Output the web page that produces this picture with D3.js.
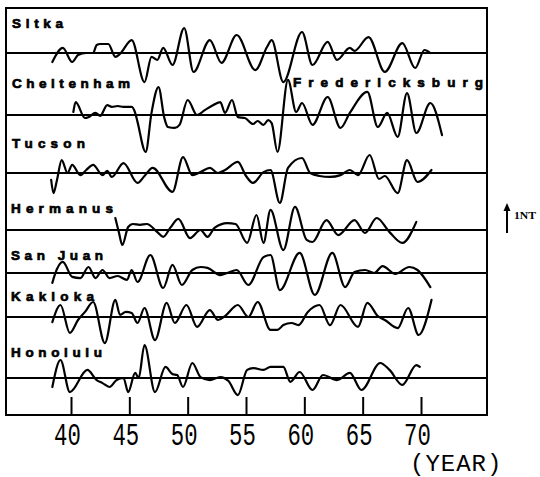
<!DOCTYPE html>
<html><head><meta charset="utf-8">
<script src="https://cdn.jsdelivr.net/npm/d3@7/dist/d3.min.js"></script>
<style>html,body{margin:0;padding:0;background:#fff;}</style>
</head><body>
<svg id="c" width="540" height="477"></svg>
<script>
// ---------- data ----------
const stations = ["Sitka","Cheltenham","Tucson","Hermanus","San Juan","Kakioka","Honolulu"];
const extraLabel = "Fredericksburg";
const tickYears = [40,45,50,55,60,65,70];
const xLabel = "(YEAR)";
const scaleLabel = "1NT";

// [year, nT]
const sitka = [[38.4,-0.3],[39.3,0.17],[40.1,-0.3],[40.6,-0.07],[41.3,0],[41.9,0],[42.2,0.27],[42.5,0.3],[43.2,0.3],[43.8,-0.13],[44.2,-0.03],[45.2,0.43],[46.3,-0.97],[46.9,-0.13],[47.4,-0.23],[47.9,0.17],[48.7,-0.4],[49.7,0.83],[50.5,-0.63],[51.9,0.43],[52.9,-0.33],[54.2,0.6],[55.8,-0.57],[56.8,0.2],[57.2,0.43],[58.2,-0.97],[59.8,0.7],[60.7,-0.4],[62.0,0.37],[62.8,-0.23],[63.9,0.17],[64.3,0.07],[65.5,0.53],[66.9,-0.63],[68.4,0.33],[69.5,-0.5],[70.3,0.1],[70.8,0]];
const cheltenham = [[40.2,0.1],[40.4,0.43],[41.2,-0.1],[41.5,-0.07],[42.1,0.07],[42.5,-0.03],[43.1,0.33],[43.5,0.27],[44.0,0.3],[44.5,0.27],[45.2,0.27],[45.5,0.07],[45.7,-0.23],[46.4,-1.23],[46.9,0.07],[47.5,0.93],[48.0,-0.1],[48.3,-0.4],[48.9,-0.43],[49.3,-0.33],[50.0,0.5],[50.8,0],[51.5,0.17],[52.2,0.33],[52.8,0.43],[53.2,0.07],[53.8,0.5],[54.3,-0.07],[54.9,-0.1],[55.6,-0.3],[56.0,-0.2],[56.5,-0.33],[56.9,-0.17],[57.2,-0.27],[57.7,-1.23],[58.6,1.17],[59.3,0.1],[59.8,0.4],[60.7,-0.33],[62.0,0.6],[63.1,-0.43],[63.9,0.07],[65.4,0.77],[66.3,-0.4],[67.1,0.07],[68.0,-0.73],[68.8,0.73],[69.6,-0.6],[70.8,0.4],[71.8,-0.67]];
const tucson = [[38.3,-0.23],[38.5,-0.67],[38.8,-0.23],[39.2,0.43],[39.7,0],[40.1,0.27],[40.8,-0.07],[41.3,0.1],[41.9,0.27],[42.7,-0.07],[43.1,0.07],[43.5,-0.13],[44.5,0.33],[45.7,-0.33],[46.3,-0.1],[47.0,0.17],[48.7,-0.63],[49.6,0.53],[50.4,-0.07],[51.1,0.03],[51.9,0.17],[52.6,0],[53.2,0.1],[54.3,0.37],[55.0,-0.1],[55.6,-0.33],[56.5,0.03],[57.1,0.1],[57.9,-1.0],[58.6,0.17],[59.8,0.5],[60.5,0],[61.3,-0.1],[62.2,-0.13],[63.1,-0.07],[63.9,0.1],[64.6,-0.07],[65.6,0.6],[66.4,-0.2],[66.9,-0.1],[68.0,-0.67],[68.8,0.43],[69.7,-0.3],[70.9,0.1]];
const hermanus = [[43.8,0.4],[44.1,-0.07],[44.4,-0.5],[44.9,0.1],[45.3,0.2],[45.9,0.17],[46.5,0.2],[47.4,-0.07],[47.9,-0.23],[48.5,0.07],[49.2,0.37],[50.2,-0.27],[51.1,0],[51.7,-0.23],[52.3,0.07],[53.4,0.23],[54.1,0.2],[55.1,-0.43],[55.9,0.5],[56.5,-0.43],[57.1,0.67],[58.2,-0.67],[59.2,0.77],[60.2,-0.33],[60.7,-0.4],[61.9,0.33],[62.9,-0.17],[64.3,0.33],[65.2,-0.1],[66.2,0.4],[67.3,-0.07],[68.4,-0.43],[69.6,0.27]];
const sanJuan = [[38.4,-0.33],[38.6,-0.07],[39.3,0.37],[40.1,-0.13],[40.8,-0.17],[41.5,0.2],[42.1,-0.17],[42.7,0.1],[43.3,-0.17],[44.0,-0.1],[44.8,-0.23],[45.2,0.1],[45.7,-0.3],[46.8,0.6],[47.9,-0.5],[48.7,0.27],[49.5,-0.4],[50.4,0.1],[51.1,0.2],[51.7,0.17],[52.8,-0.07],[53.4,0],[54.2,0.1],[55.2,-0.4],[56.5,0.53],[57.1,0.6],[57.9,-0.57],[59.6,0.67],[60.9,-0.73],[62.4,0.67],[63.5,-0.47],[64.3,0.03],[65.2,0.1],[66.0,0],[66.7,0.23],[67.8,-0.03],[69.0,0.2],[69.7,0.1],[70.8,-0.47]];
const kakioka = [[38.4,-0.17],[39.1,0.4],[39.9,-0.53],[40.6,-0.1],[41.2,0.17],[41.9,0.5],[42.9,-0.87],[43.8,0.57],[44.2,0.07],[44.7,0.17],[45.2,0.13],[45.7,-0.2],[46.3,0.3],[47.2,-0.77],[48.2,0.47],[48.9,-0.2],[49.9,0.4],[50.8,-0.33],[51.9,0.23],[52.6,-0.1],[53.2,0.03],[54.3,0.4],[55.2,0],[56.0,0.5],[57.1,-0.43],[57.7,-0.43],[58.2,-0.27],[58.9,-0.2],[59.5,-0.27],[60.3,0.17],[61.3,0.4],[62.2,-0.27],[63.1,0.4],[64.6,-0.33],[65.4,0.47],[66.3,0.03],[66.9,-0.1],[68.0,-0.37],[68.9,0.3],[69.8,-0.6],[70.9,0.57]];
const honolulu = [[38.4,-0.3],[39.1,0.6],[39.9,-0.47],[41.4,0.27],[42.2,-0.07],[42.7,-0.17],[43.3,-0.3],[43.9,-0.07],[44.5,0],[44.9,-0.47],[45.5,0.17],[45.8,0],[46.3,1.1],[47.2,-0.47],[48.1,0.37],[48.7,0.13],[49.1,0.1],[49.6,-0.3],[50.4,0.5],[51.1,0.03],[51.9,-0.07],[52.8,0.03],[53.5,-0.1],[54.3,-0.57],[55.1,0.27],[55.6,0.33],[56.5,0.27],[57.1,0.37],[58.2,0.37],[58.8,-0.13],[59.6,0.2],[60.7,-0.4],[61.6,0.1],[62.8,-0.07],[63.9,0.17],[64.9,-0.4],[66.5,0.5],[67.3,0.27],[68.4,-0.23],[69.6,0.43],[69.9,0.37]];
const series = [sitka, cheltenham, tucson, hermanus, sanJuan, kakioka, honolulu];

// ---------- layout ----------
const frame = {x0:6, y0:8, x1:487, y1:415};
const baselines = [53,115,173,230,273,317,378];
const pxPerNT = 30;
const labelLayout = [
  {x:12,y:28,w:51},{x:12,y:88,w:118},{x:12,y:148,w:73},{x:11,y:213,w:102},
  {x:11,y:260,w:92},{x:11,y:301,w:83},{x:11,y:357,w:91}
];
const extraLayout = {x:293,y:87,w:190};

const svg = d3.select("#c");
const x = d3.scaleLinear().domain([40,70]).range([71,421]);

// frame
svg.append("rect").attr("x",frame.x0).attr("y",frame.y0)
  .attr("width",frame.x1-frame.x0).attr("height",frame.y1-frame.y0)
  .attr("fill","none").attr("stroke","#000").attr("stroke-width",2);

function label(t, L){
  svg.append("text").attr("x",L.x).attr("y",L.y).text(t)
    .attr("font-family","Liberation Sans, Arial, sans-serif").attr("font-weight","bold")
    .attr("font-size",13.5).attr("stroke","#000").attr("stroke-width",0.7)
    .attr("textLength",L.w).attr("lengthAdjust","spacing");
}

// baselines + curves
const line = d3.line().curve(d3.curveMonotoneX);
series.forEach((s,i)=>{
  const b = baselines[i];
  const y = d3.scaleLinear().domain([-1,1]).range([b+pxPerNT,b-pxPerNT]);
  svg.append("line").attr("x1",frame.x0).attr("x2",frame.x1).attr("y1",b).attr("y2",b)
    .attr("stroke","#000").attr("stroke-width",2);
  svg.append("path").attr("d", line.x(d=>x(d[0])).y(d=>y(d[1]))(s))
    .attr("fill","none").attr("stroke","#000").attr("stroke-width",2.2)
    .attr("stroke-linejoin","round").attr("stroke-linecap","round");
  label(stations[i], labelLayout[i]);
});
label(extraLabel, extraLayout);

// x axis
const axis = d3.axisBottom(x).tickValues(tickYears).tickSize(-18).tickFormat(d3.format("d"));
const g = svg.append("g").attr("transform",`translate(0,${frame.y1})`).call(axis);
g.select(".domain").remove();
g.selectAll(".tick line").attr("stroke","#000").attr("stroke-width",2);
g.selectAll(".tick text").attr("y",30).attr("dy",0)
  .attr("font-family","Liberation Mono, monospace").attr("font-size",31)
  .attr("fill","#000").attr("transform","translate(-4,0) scale(0.72,1)");

svg.append("text").attr("x",410).attr("y",471).text(xLabel)
  .attr("font-family","Liberation Mono, monospace").attr("font-size",24)
  .attr("letter-spacing",1);

// scale arrow: 1 nT
const ya = d3.scaleLinear().domain([0,1]).range([233,233-pxPerNT]);
svg.append("line").attr("x1",507).attr("x2",507).attr("y1",ya(0)).attr("y2",ya(1)+6)
  .attr("stroke","#000").attr("stroke-width",2);
svg.append("path").attr("d",`M507,${ya(1)} L503.5,${ya(1)+8} L510.5,${ya(1)+8} Z`).attr("fill","#000");
svg.append("text").attr("x",514).attr("y",219).text(scaleLabel)
  .attr("font-family","Liberation Serif, serif").attr("font-weight","bold")
  .attr("font-size",10).attr("textLength",22).attr("lengthAdjust","spacingAndGlyphs");
</script>
</body></html>
